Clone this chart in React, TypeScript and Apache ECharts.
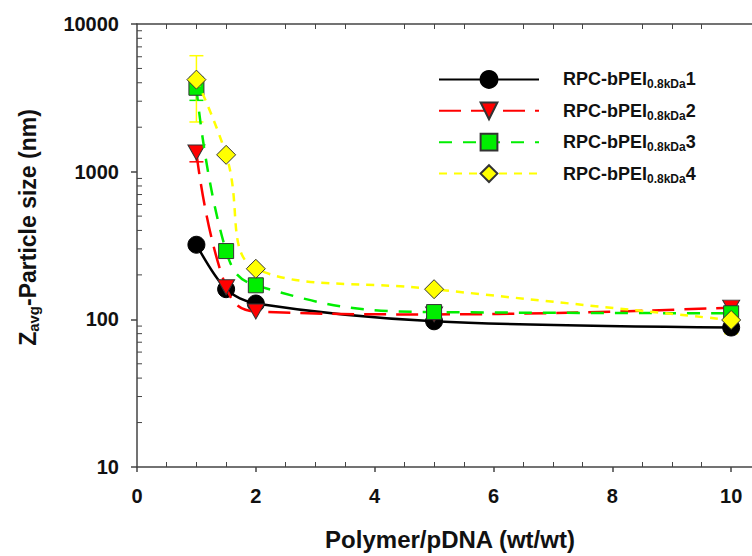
import React, { useEffect, useRef } from "react";
import * as echarts from "echarts";

// ---- data ----
const xValues = [1, 1.5, 2, 5, 10];
const seriesNames = ["RPC-bPEI0.8kDa1", "RPC-bPEI0.8kDa2", "RPC-bPEI0.8kDa3", "RPC-bPEI0.8kDa4"];
const sizes1 = [320, 160, 128, 97, 88];
const sizes2 = [1350, 165, 113, 108, 120];
const sizes3 = [3700, 290, 170, 112, 110];
const sizes4 = [4200, 1300, 220, 160, 99];
// [x, low, high]
const errors2 = [[1, 1166, 1473]];
const errors3 = [[1, 3040, 4360]];
const errors4 = [[1, 2170, 6100], [10, 80, 116]];
const yMinorTicks = [20, 30, 40, 50, 60, 70, 80, 90, 200, 300, 400, 500, 600, 700, 800, 900, 2000, 3000, 4000, 5000, 6000, 7000, 8000, 9000];
const xMin = 0;
const xMax = 12;
const xInterval = 2;
const xLastLabel = 10;
const yMin = 10;
const yMax = 10000;

const FONT = "'Liberation Sans', Arial, Helvetica, sans-serif";
const AXIS_COLOR = "#444";
const TEXT_COLOR = "#111";

const styles = [
  { color: "#000000", symbol: "circle", size: 17, rotate: 0, dash: "solid" as any, border: "#000000", smooth: 0.3 },
  { color: "#ff0000", symbol: "triangle", size: [17, 15], rotate: 180, dash: [22, 10], border: "#333333", smooth: 0.45 },
  { color: "#00ee00", symbol: "rect", size: 15, rotate: 0, dash: [13, 11], border: "#333333", smooth: 0.45 },
  { color: "#ffff00", symbol: "diamond", size: 19, rotate: 0, dash: [8, 7], border: "#333333", smooth: 0.45 },
];

const allSizes = [sizes1, sizes2, sizes3, sizes4];
const allErrors: number[][][] = [[], errors2, errors3, errors4];

export default function App() {
  const ref = useRef<HTMLDivElement>(null);
  useEffect(() => {
    if (!ref.current) return;
    const chart = echarts.init(ref.current, null, { renderer: "svg" });

    const lineSeries = allSizes.map((vals, i) => ({
      name: seriesNames[i],
      type: "line",
      xAxisIndex: 0,
      yAxisIndex: 0,
      data: xValues.map((x, j) => [x, vals[j]]),
      smooth: styles[i].smooth,
      symbol: styles[i].symbol,
      symbolSize: styles[i].size,
      symbolRotate: styles[i].rotate,
      showAllSymbol: true,
      lineStyle: { color: styles[i].color, width: 2.5, type: styles[i].dash },
      itemStyle: { color: styles[i].color, borderColor: styles[i].border, borderWidth: 1 },
      z: 3 + i,
      clip: false,
    }));

    const errorSeries = allErrors
      .map((errs, i) => ({ errs, i }))
      .filter((e) => e.errs.length > 0)
      .map(({ errs, i }) => ({
        name: "err" + i,
        type: "custom",
        xAxisIndex: 0,
        yAxisIndex: 0,
        silent: true,
        clip: false,
        z: 2,
        encode: { x: 0, y: [1, 2] },
        data: errs,
        renderItem: (params: any, api: any) => {
          const x = api.value(0);
          const a = api.coord([x, api.value(1)]);
          const b = api.coord([x, api.value(2)]);
          const w = 7;
          const st = { stroke: styles[i].color, lineWidth: 1.5 };
          return {
            type: "group",
            children: [
              { type: "line", shape: { x1: a[0], y1: a[1], x2: b[0], y2: b[1] }, style: st },
              { type: "line", shape: { x1: a[0] - w, y1: a[1], x2: a[0] + w, y2: a[1] }, style: st },
              { type: "line", shape: { x1: b[0] - w, y1: b[1], x2: b[0] + w, y2: b[1] }, style: st },
            ],
          };
        },
      }));

    const minorTickSeries = {
      name: "yMinor",
      type: "custom",
      xAxisIndex: 0,
      yAxisIndex: 0,
      silent: true,
      clip: false,
      z: 1,
      data: yMinorTicks.map((v) => [xMin, v]),
      renderItem: (params: any, api: any) => {
        const p = api.coord([api.value(0), api.value(1)]);
        return {
          type: "line",
          shape: { x1: p[0], y1: p[1], x2: p[0] + 5, y2: p[1] },
          style: { stroke: AXIS_COLOR, lineWidth: 1 },
        };
      },
    };

    chart.setOption({
      animation: false,
      backgroundColor: "#ffffff",
      grid: { left: 137, top: 24, right: 10, bottom: 86, containLabel: false },
      legend: {
        orient: "vertical",
        left: 438,
        top: 70,
        padding: 0,
        itemWidth: 100,
        itemHeight: 21,
        itemGap: 11,
        data: seriesNames,
        formatter: (name: string) => `RPC-bPEI{s|0.8kDa}${seriesNames.indexOf(name) + 1}`,
        textStyle: {
          fontFamily: FONT,
          fontSize: 18,
          fontWeight: "bold",
          color: TEXT_COLOR,
          padding: [0, 0, 0, 19],
          rich: {
            s: { fontFamily: FONT, fontSize: 12, fontWeight: "bold", color: TEXT_COLOR, padding: [10, 0, 0, 0] },
          },
        },
      },
      xAxis: [
        {
          type: "value",
          position: "bottom",
          min: xMin,
          max: xMax,
          interval: xInterval,
          name: "Polymer/pDNA (wt/wt)",
          nameLocation: "middle",
          nameGap: 60,
          nameTextStyle: { fontFamily: FONT, fontSize: 24, fontWeight: "bold", color: TEXT_COLOR, padding: [0, 87, 0, 0] },
          axisLine: { show: true, lineStyle: { color: AXIS_COLOR, width: 1.5 } },
          axisTick: { show: true, inside: false, length: 5, lineStyle: { color: AXIS_COLOR, width: 1.5 } },
          minorTick: { show: true, splitNumber: 4, length: -5, lineStyle: { color: AXIS_COLOR, width: 1 } },
          axisLabel: {
            fontFamily: FONT,
            fontSize: 20,
            fontWeight: "bold",
            color: TEXT_COLOR,
            margin: 19,
            formatter: (v: number) => (v > xLastLabel ? "" : String(v)),
          },
          splitLine: { show: false },
          minorSplitLine: { show: false },
        },
        {
          type: "value",
          position: "top",
          min: xMin,
          max: xMax,
          interval: xInterval,
          axisLine: { show: true, lineStyle: { color: AXIS_COLOR, width: 1.5 } },
          axisTick: { show: false, inside: true },
          minorTick: { show: true, splitNumber: 4, length: 5, lineStyle: { color: AXIS_COLOR, width: 1 } },
          axisLabel: { show: false },
          splitLine: { show: false },
        },
      ],
      yAxis: [
        {
          type: "log",
          logBase: 10,
          min: yMin,
          max: yMax,
          name: "Z{s|avg}-Particle size (nm)",
          nameLocation: "middle",
          nameRotate: 90,
          nameGap: 96,
          nameTextStyle: {
            fontFamily: FONT,
            fontSize: 23,
            fontWeight: "bold",
            color: TEXT_COLOR,
            padding: [0, 0, 0, 36],
            rich: {
              s: { fontFamily: FONT, fontSize: 15, fontWeight: "bold", color: TEXT_COLOR, padding: [12, 0, 0, 0] },
            },
          },
          axisLine: { show: true, lineStyle: { color: AXIS_COLOR, width: 1.5 } },
          axisTick: { show: true, inside: false, length: 6, lineStyle: { color: AXIS_COLOR, width: 1.5 } },
          minorTick: { show: false },
          axisLabel: {
            fontFamily: FONT,
            fontSize: 20,
            fontWeight: "bold",
            color: TEXT_COLOR,
            margin: 18,
            formatter: (v: number) => String(Math.round(v)),
          },
          splitLine: { show: false },
        },
      ],
      series: [minorTickSeries, ...errorSeries, ...lineSeries],
    });
    return () => chart.dispose();
  }, []);

  return (
    <div style={{ position: "fixed", left: 0, top: 0, width: 752, height: 556, overflow: "hidden", background: "#fff" }}>
      <div ref={ref} style={{ width: 860, height: 556 }} />
    </div>
  );
}
